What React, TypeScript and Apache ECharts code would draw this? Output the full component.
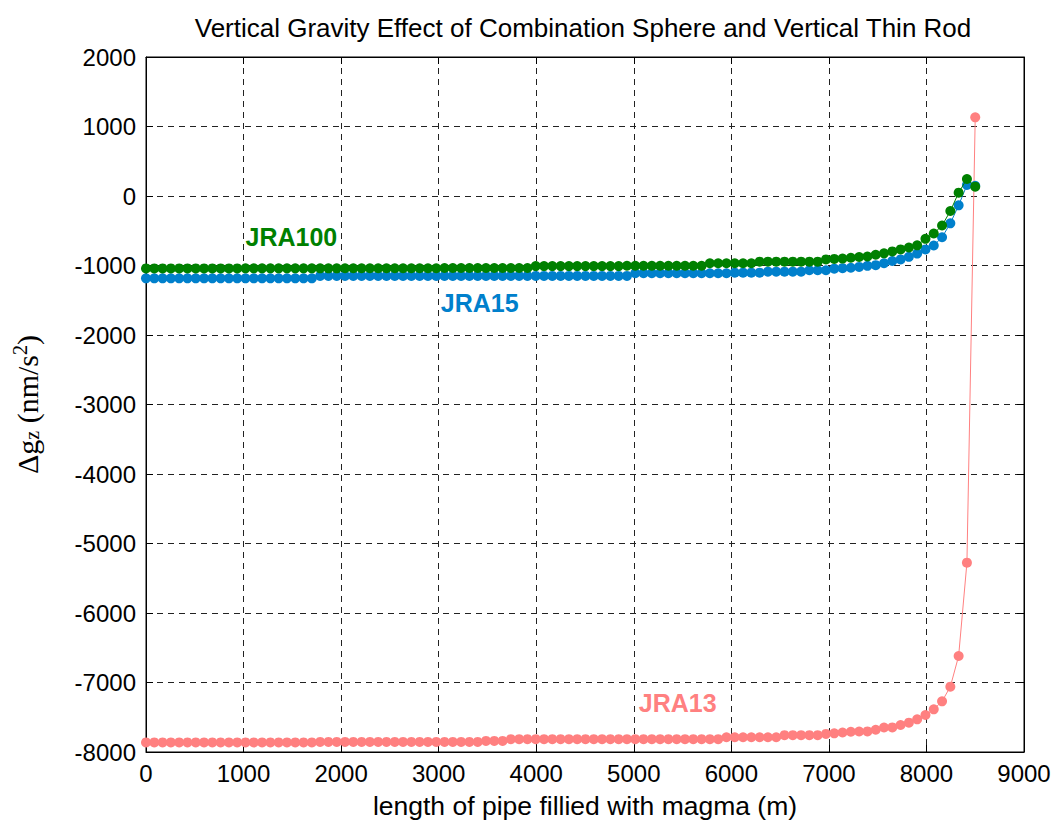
import React, { useEffect, useRef } from "react";
import * as echarts from "echarts";

const pipeLength = [0,85,170,255,340,425,510,595,680,765,850,935,1020,1105,1190,1275,1360,1445,1530,1615,1700,1785,1870,1955,2040,2125,2210,2295,2380,2465,2550,2635,2720,2805,2890,2975,3060,3145,3230,3315,3400,3485,3570,3655,3740,3825,3910,3995,4080,4165,4250,4335,4420,4505,4590,4675,4760,4845,4930,5015,5100,5185,5270,5355,5440,5525,5610,5695,5780,5865,5950,6035,6120,6205,6290,6375,6460,6545,6630,6715,6800,6885,6970,7055,7140,7225,7310,7395,7480,7565,7650,7735,7820,7905,7990,8075,8160,8245,8330,8415,8500];

const jra100 = [
  -1042,-1042,-1042,-1042,-1042,-1042,-1042,-1042,-1042,-1042,-1042,-1042,
  -1041,-1041,-1041,-1041,-1041,-1041,-1041,-1041,-1041,-1041,-1041,-1041,
  -1039,-1039,-1039,-1039,-1039,-1039,-1039,-1039,-1039,-1039,-1039,-1039,
  -1036,-1036,-1036,-1036,-1036,-1036,-1036,-1036,-1036,-1036,-1036,
  -1008,-1008,-1008,-1008,-1008,-1008,-1008,-1008,-1008,-1008,-1008,
  -1004,-1004,-1004,-1004,-1004,-1004,-1004,-1004,-1004,-1004,
  -968,-968,-968,-968,-968,-968,
  -945,-945,-945,-945,-945,-945,-945,-945,
  -912,-905,-900,-888,-878,-870,-845,-825,-797,-768,-741,-710,-616,-540,-425,-216,48,245,134
];

const jra15 = [
  -1185,-1185,-1185,-1185,-1185,-1185,-1185,-1185,-1185,-1185,-1185,-1185,-1185,-1185,-1185,-1185,-1185,-1185,-1185,-1185,-1185,
  -1150,-1150,-1150,-1150,-1150,-1150,-1150,-1150,-1150,-1150,-1150,-1150,-1150,-1150,-1150,-1150,-1150,-1150,-1150,
  -1150,-1150,-1150,-1150,-1150,-1150,-1150,-1150,-1150,-1150,-1150,-1150,-1150,-1150,-1150,-1150,-1150,-1150,-1150,
  -1112,-1112,-1112,-1112,-1112,-1112,-1112,-1112,-1112,-1112,-1112,-1112,
  -1103,-1103,-1103,-1103,
  -1089,-1089,-1089,-1089,-1089,
  -1068,-1068,-1068,
  -1045,-1038,-1032,-1020,-1005,-995,-968,-935,-912,-875,-828,-768,-712,-594,-393,-134,158,148
];

const jra13 = [
  -7862,-7862,-7862,-7862,-7862,-7862,-7862,-7862,-7862,-7862,-7862,-7862,-7862,-7862,-7862,-7862,-7862,-7862,-7862,-7862,-7862,
  -7855,-7855,-7855,-7855,-7855,-7855,-7855,-7855,-7855,-7855,-7855,-7855,-7855,-7855,-7855,-7855,-7855,-7855,-7855,-7855,
  -7840,-7840,-7840,
  -7815,-7815,-7815,-7815,-7815,-7815,-7815,-7815,-7815,-7815,-7815,-7815,-7815,
  -7815,-7815,-7815,-7815,-7815,-7815,-7815,-7815,-7815,-7815,-7815,-7815,-7815,
  -7788,-7788,-7788,-7788,-7788,-7788,-7788,
  -7758,-7758,-7758,-7758,-7758,
  -7740,-7731,-7720,-7708,-7705,-7704,-7680,-7648,-7646,-7612,-7578,-7530,-7468,-7386,-7271,-7060,-6619,-5276,1132
];

const xTicks = { min: 0, max: 9000, interval: 1000 };
const yTicks = { min: -8000, max: 2000, interval: 1000 };

const seriesNames = ["JRA13", "JRA15", "JRA100"];
const seriesColors = ["#ff8080", "#0080cc", "#008000"];
const labelAt = [
  [5450, -7300],
  [3420, -1540],
  [1490, -590],
];

const SANS = "'Liberation Sans', Arial, Helvetica, sans-serif";
const SERIF = "'Liberation Serif', 'Times New Roman', serif";

export default function App() {
  const ref = useRef<HTMLDivElement>(null);
  useEffect(() => {
    if (!ref.current) return;
    const chart = echarts.init(ref.current, undefined, { renderer: "svg" });
    const values = [jra13, jra15, jra100];
    const gridLine = { show: true, lineStyle: { color: "#222", type: [6, 5], width: 1 } };
    const plain = (v: number) => String(v);
    const option: any = {
      animation: false,
      backgroundColor: "#fff",
      title: {
        text: "Vertical Gravity Effect of Combination Sphere and Vertical Thin Rod",
        left: 578,
        top: 10,
        textAlign: "center",
        textStyle: { fontFamily: SANS, fontSize: 26, fontWeight: "normal", color: "#000" },
      },
      grid: { left: 143, right: 33, top: 57, bottom: 72, show: true, borderColor: "#000", borderWidth: 1, backgroundColor: "#fff" },
      xAxis: [
        {
          type: "value",
          ...xTicks,
          axisLine: { show: true, onZero: false, lineStyle: { color: "#000", width: 1 } },
          axisTick: { show: true, inside: true, length: 7, lineStyle: { color: "#000" } },
          axisLabel: { fontFamily: SANS, fontSize: 24, color: "#000", margin: 9, formatter: plain },
          splitLine: gridLine,
          name: "length of pipe fillied with magma (m)",
          nameLocation: "middle",
          nameGap: 40,
          nameTextStyle: { fontFamily: SANS, fontSize: 26.5, color: "#000" },
        },
        {
          type: "value",
          position: "top",
          ...xTicks,
          axisLine: { show: true, onZero: false, lineStyle: { color: "#000" } },
          axisTick: { show: true, inside: true, length: 7, lineStyle: { color: "#000" } },
          axisLabel: { show: false },
          splitLine: { show: false },
        },
      ],
      yAxis: [
        {
          type: "value",
          ...yTicks,
          axisLine: { show: true, onZero: false, lineStyle: { color: "#000", width: 1 } },
          axisTick: { show: true, inside: true, length: 7, lineStyle: { color: "#000" } },
          axisLabel: { fontFamily: SANS, fontSize: 24, color: "#000", margin: 10, formatter: plain },
          splitLine: gridLine,
          name: "{a|Δg}{s|z}{a| (nm/s}{p|2}{a|)}",
          nameLocation: "middle",
          nameGap: 100,
          nameTextStyle: {
            fontFamily: SERIF,
            fontSize: 30,
            color: "#000",
            rich: {
              a: { fontFamily: SERIF, fontSize: 30, color: "#000", lineHeight: 38, verticalAlign: "middle" },
              s: { fontFamily: SERIF, fontSize: 20, color: "#000", lineHeight: 38, verticalAlign: "bottom", padding: [0, 0, 4, 0] },
              p: { fontFamily: SERIF, fontSize: 20, color: "#000", lineHeight: 38, verticalAlign: "top", padding: [2, 0, 0, 0] },
            },
          },
        },
        {
          type: "value",
          position: "right",
          ...yTicks,
          axisLine: { show: true, onZero: false, lineStyle: { color: "#000" } },
          axisTick: { show: true, inside: true, length: 7, lineStyle: { color: "#000" } },
          axisLabel: { show: false },
          splitLine: { show: false },
        },
      ],
      series: seriesNames.map((name, k) => ({
        name,
        type: "line",
        xAxisIndex: 0,
        yAxisIndex: 0,
        data: pipeLength.map((x, i) => [x, values[k][i]]),
        symbol: "circle",
        symbolSize: 10,
        showSymbol: true,
        z: 2 + k,
        lineStyle: { color: seriesColors[k], width: 1 },
        itemStyle: { color: seriesColors[k] },
        markPoint: {
          symbol: "circle",
          symbolSize: 1,
          itemStyle: { color: "rgba(0,0,0,0)" },
          label: {
            show: true,
            position: "inside",
            formatter: name,
            fontFamily: SANS,
            fontWeight: "bold",
            fontSize: 25,
            color: seriesColors[k],
          },
          data: [{ coord: labelAt[k] }],
        },
      })),
    };
    chart.setOption(option);
    return () => chart.dispose();
  }, []);
  return (
    <div
      ref={ref}
      style={{ position: "fixed", left: 0, top: 0, width: 1057, height: 824, background: "#fff" }}
    />
  );
}
